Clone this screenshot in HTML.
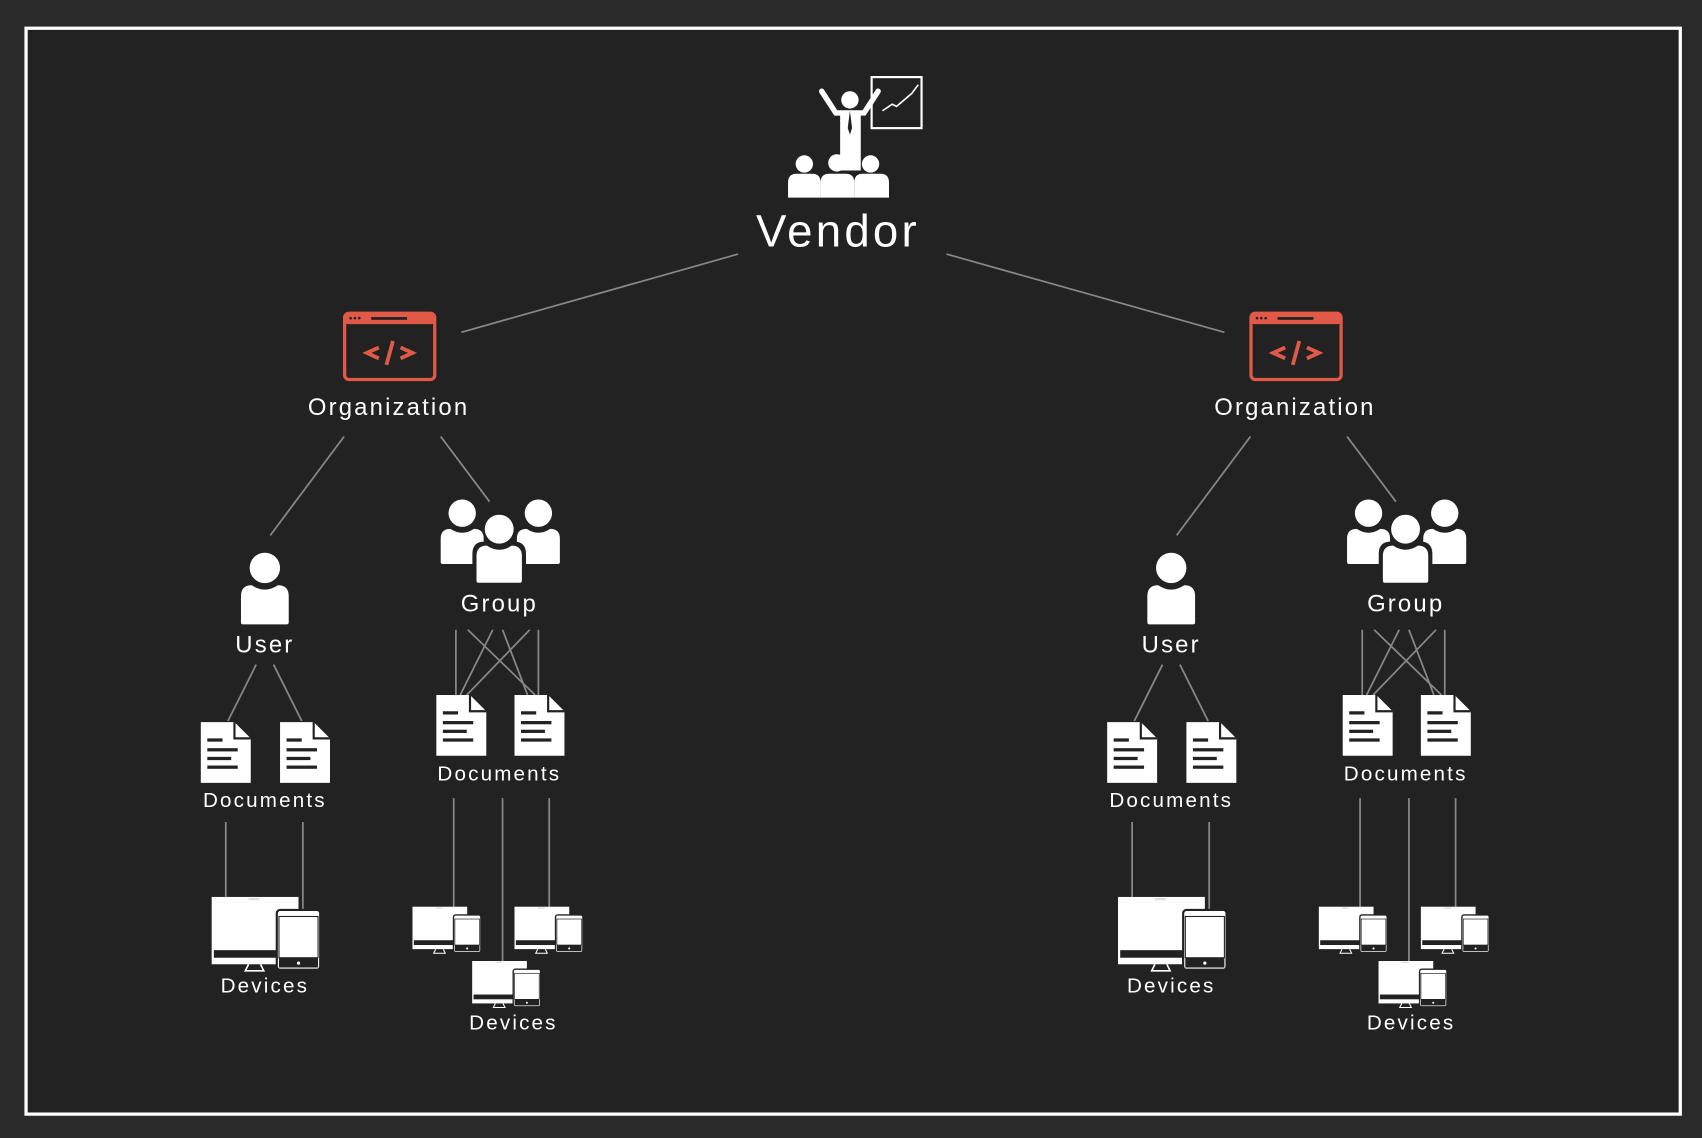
<!DOCTYPE html>
<html><head><meta charset="utf-8"><style>
html,body{margin:0;padding:0;background:#2a2a2a;}
svg{display:block}
text{font-family:"Liberation Sans",sans-serif;fill:#fff;text-anchor:middle}
</style></head><body>
<svg width="1702" height="1138" viewBox="0 0 1568 1048" preserveAspectRatio="none" xmlns="http://www.w3.org/2000/svg">
<defs>
<g id="doc">
<path d="M0 0H31L46 15V56H0Z" fill="#fff"/>
<path d="M31 0V15H46" fill="none" stroke="#222" stroke-width="2"/>
<rect x="6" y="15" width="14" height="3" fill="#222"/>
<rect x="6" y="24" width="28" height="3" fill="#222"/>
<rect x="6" y="32" width="22" height="3" fill="#222"/>
<rect x="6" y="40" width="28" height="3" fill="#222"/>
</g>
<g id="user">
<circle cx="22" cy="14" r="14" fill="#fff"/>
<path d="M0 64V40Q0 30 10 30Q22 38 34 30Q44 30 44 40V64Q44 66 42 66H2Q0 66 0 64Z" fill="#fff"/>
</g>
<g id="group">
<use href="#user" x="0" y="0" transform="scale(0.9)"/>
<use href="#user" x="78" y="0" transform="scale(0.9)"/>
<g transform="translate(33,14) scale(0.95)">
<circle cx="22" cy="14" r="16" fill="#222"/>
<path d="M-4 70V38Q-4 26 8 26Q22 36 36 26Q48 26 48 38V70Z" fill="#222"/>
<use href="#user"/>
</g>
</g>
<g id="dev">
<rect x="0" y="0" width="80" height="62" fill="#fff"/>
<rect x="2" y="49" width="76" height="7" fill="#222"/>
<rect x="34" y="1" width="10" height="2" fill="#ddd"/>
<path d="M34 62L31 68H48L45 62" fill="none" stroke="#fff" stroke-width="1.5"/>
<rect x="60" y="12" width="40" height="55" rx="3" fill="#fff" stroke="#222" stroke-width="2"/>
<rect x="62" y="18" width="36" height="38" fill="#fff" stroke="#222" stroke-width="1"/>
<rect x="62" y="56" width="36" height="9" fill="#222"/>
<circle cx="80" cy="61" r="1.5" fill="#fff"/>
</g>
<g id="org">
<rect x="1.5" y="1.5" width="83" height="61" rx="4" fill="none" stroke="#e05a47" stroke-width="3"/>
<rect x="1.5" y="1.5" width="83" height="10" rx="3" fill="#e05a47"/>
<circle cx="7" cy="6" r="1.2" fill="#222"/><circle cx="11" cy="6" r="1.2" fill="#222"/><circle cx="15" cy="6" r="1.2" fill="#222"/>
<rect x="26" y="5" width="33" height="2.5" fill="#222"/>
<path d="M33 33L22 38L33 43M53 33L64 38L53 43M46 27L40 49" fill="none" stroke="#e05a47" stroke-width="3.5"/>
</g>
<g id="side">
<g stroke="#888" stroke-width="1.6">
<line x1="317" y1="402" x2="249" y2="493"/>
<line x1="406" y1="402" x2="451" y2="462"/>
<line x1="236" y1="612" x2="210" y2="664"/>
<line x1="252" y1="612" x2="278" y2="664"/>
<line x1="208" y1="757" x2="208" y2="826"/>
<line x1="279" y1="757" x2="279" y2="838"/>
<line x1="420" y1="580" x2="420" y2="640"/>
<line x1="496" y1="580" x2="496" y2="640"/>
<line x1="431" y1="580" x2="493" y2="640"/>
<line x1="454" y1="580" x2="424" y2="640"/>
<line x1="463" y1="580" x2="486" y2="640"/>
<line x1="488" y1="580" x2="430" y2="640"/>
<line x1="418" y1="735" x2="418" y2="836"/>
<line x1="463" y1="735" x2="463" y2="886"/>
<line x1="506" y1="735" x2="506" y2="836"/>
</g>
<use href="#org" x="316" y="287"/>
<text x="358" y="382" font-size="22" letter-spacing="2">Organization</text>
<use href="#user" x="222" y="509"/>
<text x="244" y="601" font-size="22" letter-spacing="2">User</text>
<use href="#group" x="406" y="460"/>
<text x="460" y="563" font-size="22" letter-spacing="2">Group</text>
<use href="#doc" x="185" y="665"/>
<use href="#doc" x="258" y="665"/>
<text x="244" y="743" font-size="19" letter-spacing="2">Documents</text>
<use href="#doc" x="402" y="640"/>
<use href="#doc" x="474" y="640"/>
<text x="460" y="719" font-size="19" letter-spacing="2">Documents</text>
<use href="#dev" x="195" y="826"/>
<text x="244" y="914" font-size="19" letter-spacing="2">Devices</text>
<g transform="translate(380,835) scale(0.63)"><use href="#dev"/></g>
<g transform="translate(474,835) scale(0.63)"><use href="#dev"/></g>
<g transform="translate(435,885) scale(0.63)"><use href="#dev"/></g>
</g>
</defs>
<rect x="0" y="0" width="1568" height="1048" fill="#2a2a2a"/>
<rect x="24" y="26" width="1524" height="1000" fill="#222" stroke="#fff" stroke-width="3"/>
<g fill="#fff">
<rect x="803" y="71" width="46" height="47" fill="none" stroke="#fff" stroke-width="2"/>
<path d="M813 102L822 96L826 98L840 86L846 78" fill="none" stroke="#fff" stroke-width="1.5"/>
<circle cx="783" cy="92" r="8"/>
<path d="M757 84L770 104H796L809 84" fill="none" stroke="#fff" stroke-width="5" stroke-linecap="round"/>
<rect x="774" y="102" width="19" height="55"/>
<path d="M783 102L781 118L783 124L785 118Z" fill="#222"/>
<circle cx="741" cy="151" r="8"/><circle cx="771" cy="150" r="8"/><circle cx="802" cy="151" r="8"/>
<path d="M726 182V168Q726 160 734 160H748Q756 160 756 168V182Z"/>
<path d="M756 182V168Q756 160 764 160H779Q787 160 787 168V182Z"/>
<path d="M787 182V168Q787 160 795 160H811Q819 160 819 168V182Z"/>
</g>
<text x="772" y="227" font-size="42" letter-spacing="3">Vendor</text>
<g stroke="#888" stroke-width="1.6">
<line x1="680" y1="234" x2="425" y2="306"/>
<line x1="872" y1="234" x2="1128" y2="306"/>
</g>
<use href="#side"/>
<use href="#side" x="835"/>
<text x="473" y="948" font-size="19" letter-spacing="2">Devices</text>
<text x="1300" y="948" font-size="19" letter-spacing="2">Devices</text>
</svg>
</body></html>
